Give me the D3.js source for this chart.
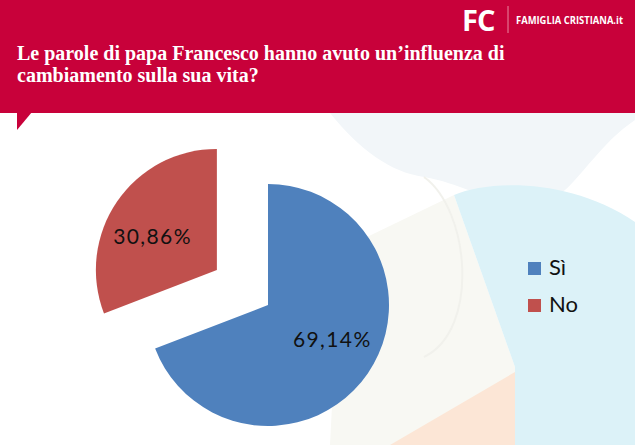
<!DOCTYPE html>
<html>
<head>
<meta charset="utf-8">
<script src="https://cdn.jsdelivr.net/npm/d3@7"></script>
<style>
  body { margin: 0; padding: 0; background: #fff; }
  svg { display: block; }
</style>
</head>
<body>
<div id="chart"></div>
<script>
// dati del grafico
const categories = ["Sì", "No"];
const values = [69.14, 30.86];
const valueLabels = ["69,14%", "30,86%"];
const titleLines = ["Le parole di papa Francesco hanno avuto un’influenza di", "cambiamento sulla sua vita?"];

const width = 635, height = 445;
const colors = ["#4f81bd", "#c0504d"];
const explode = [0, 62]; // spostamento della fetta "No"

const svg = d3.select("#chart")
    .append("svg")
    .attr("width", width)
    .attr("height", height);

// sfondo con forme chiare
const bg = svg.append("g");
bg.append("path")
    .attr("d", "M330,113 C360,150 390,172 424,177 C470,185 500,210 533,207 C570,203 590,150 635,120 L635,113 Z")
    .attr("fill", "#f2f6f9");
bg.append("path")
    .attr("d", "M340,250 L454,195 L515,367 L515,445 L330,445 Z")
    .attr("fill", "#f8f8f3");
bg.append("path")
    .attr("d", "M454,195 C490,180 570,178 635,222 L635,445 L515,445 L515,367 Z")
    .attr("fill", "#dcf2f8");
bg.append("path")
    .attr("d", "M515,372 L515,445 L390,445 Z")
    .attr("fill", "#fce6d6");
bg.append("path")
    .attr("d", "M424,177 C470,210 480,330 424,357")
    .attr("fill", "none")
    .attr("stroke", "#f1f1ec")
    .attr("stroke-width", 2);

// intestazione rossa
svg.append("rect")
    .attr("x", 0).attr("y", 0)
    .attr("width", width).attr("height", 113)
    .attr("fill", "#c8013a");
svg.append("path")
    .attr("d", "M17,112 L32,112 L17,130 Z")
    .attr("fill", "#c8013a");

svg.selectAll(".title")
    .data(titleLines)
    .enter()
    .append("text")
    .attr("class", "title")
    .attr("x", 17)
    .attr("y", (d, i) => 60 + i * 22)
    .style("font-family", "Liberation Serif, serif")
    .style("font-weight", "bold")
    .style("font-size", "20px")
    .style("fill", "#fff")
    .text(d => d);

// logo
svg.append("text")
    .attr("x", 462).attr("y", 31)
    .style("font-family", "Open Sans, sans-serif")
    .style("font-weight", "bold")
    .style("font-size", "29px")
    .style("letter-spacing", "-1px")
    .style("fill", "#fff")
    .text("FC");
svg.append("line")
    .attr("x1", 508).attr("x2", 508)
    .attr("y1", 6).attr("y2", 33)
    .attr("stroke", "#e9899f")
    .attr("stroke-width", 1);
svg.append("text")
    .attr("x", 516).attr("y", 24)
    .attr("textLength", 107)
    .attr("lengthAdjust", "spacingAndGlyphs")
    .style("font-family", "Open Sans, sans-serif")
    .style("font-weight", "bold")
    .style("font-size", "10px")
    .style("fill", "#fff")
    .text("FAMIGLIA CRISTIANA.it");

// torta
const cx = 268, cy = 305, radius = 121;
const pie = d3.pie().sort(null).value(d => d)(values);
const arc = d3.arc().innerRadius(0).outerRadius(radius);
const mid = d => (d.startAngle + d.endAngle) / 2;

const slices = svg.append("g")
    .attr("transform", `translate(${cx},${cy})`)
    .selectAll(".slice")
    .data(pie)
    .enter()
    .append("g")
    .attr("class", "slice")
    .attr("transform", (d, i) => `translate(${Math.sin(mid(d)) * explode[i]},${-Math.cos(mid(d)) * explode[i]})`);

slices.append("path")
    .attr("d", arc)
    .attr("fill", (d, i) => colors[i]);

// etichette dentro le fette (posizione su un'ellisse)
slices.append("text")
    .attr("x", d => Math.sin(mid(d)) * 78)
    .attr("y", d => -Math.cos(mid(d)) * 60)
    .attr("text-anchor", "middle")
    .attr("dy", "0.36em")
    .style("font-family", "Lato, sans-serif")
    .style("font-size", "21px")
    .style("letter-spacing", "1.4px")
    .style("fill", "#111")
    .text((d, i) => valueLabels[i]);

// legenda
const legend = svg.selectAll(".legend")
    .data(categories)
    .enter()
    .append("g")
    .attr("class", "legend")
    .attr("transform", (d, i) => `translate(528, ${262 + i * 37})`);

legend.append("rect")
    .attr("width", 13).attr("height", 13)
    .attr("fill", (d, i) => colors[i]);

legend.append("text")
    .attr("x", 21).attr("y", 13)
    .style("font-family", "Lato, sans-serif")
    .style("font-size", "22px")
    .style("fill", "#111")
    .text(d => d);
</script>
</body>
</html>
